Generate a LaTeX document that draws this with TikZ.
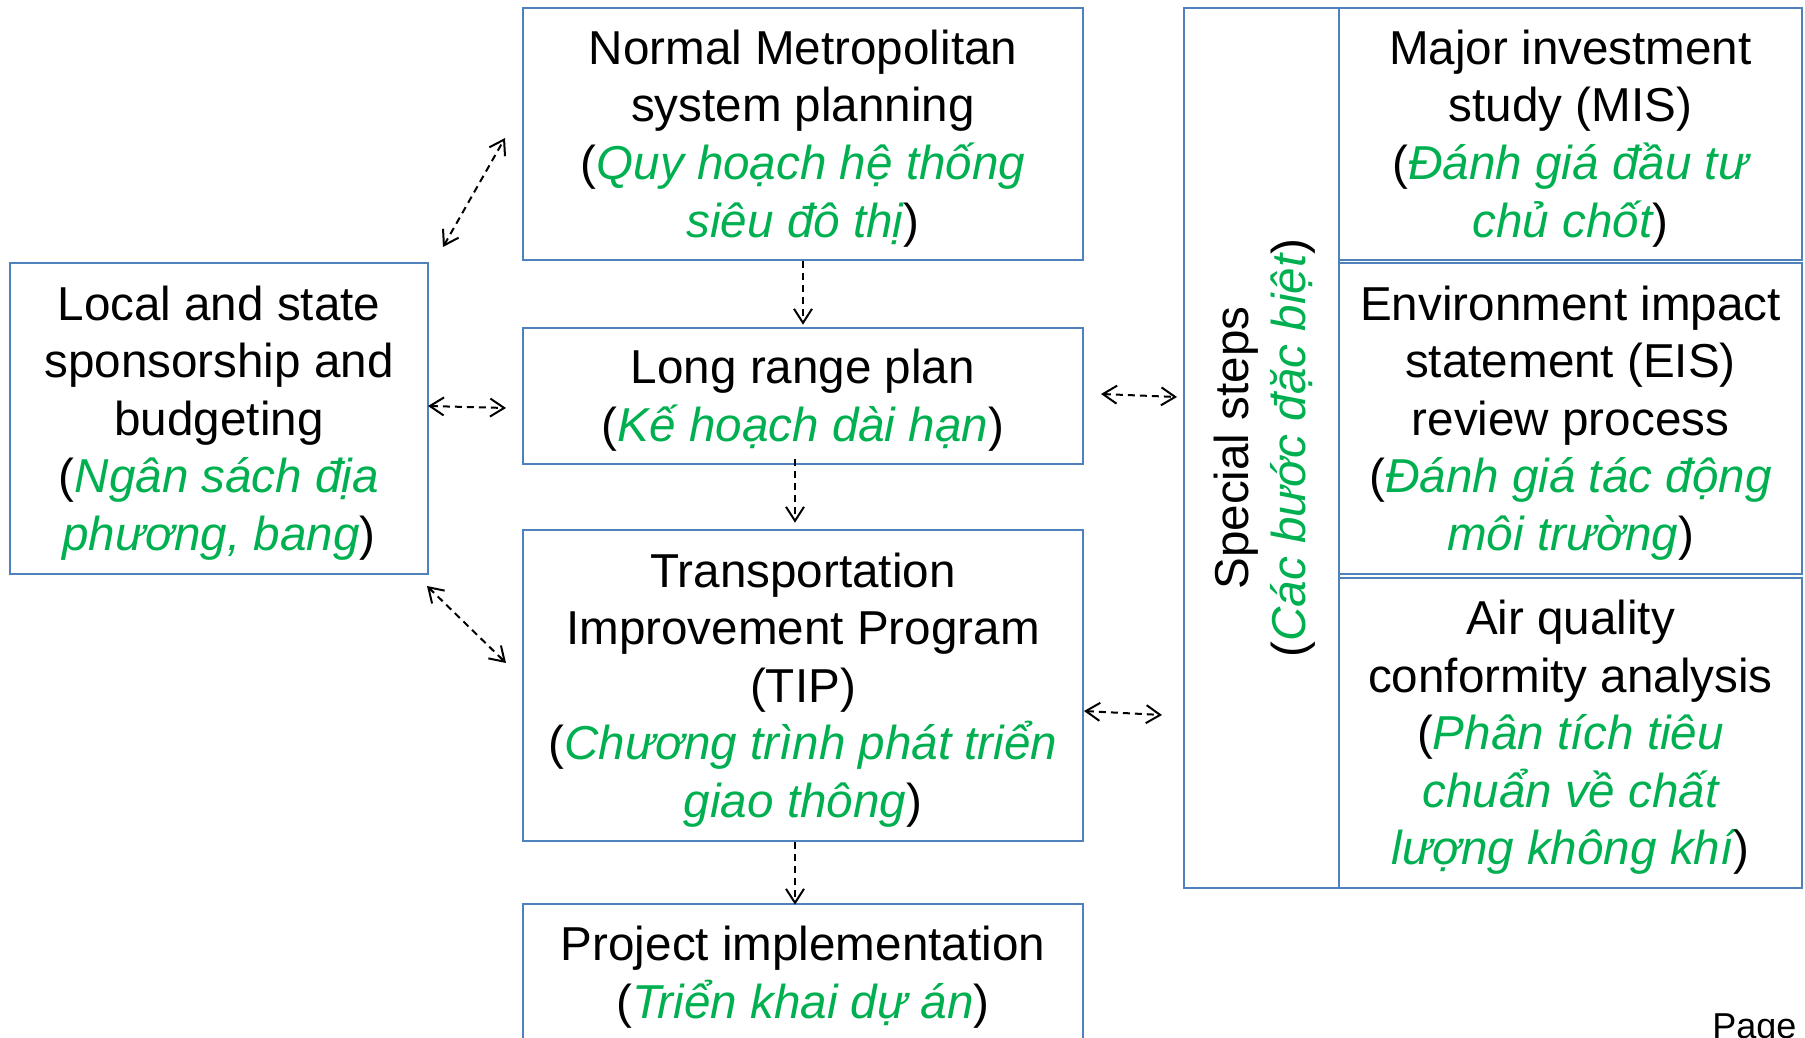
\documentclass[tikz,border=0pt]{standalone}
\usepackage{fontspec}
\setmainfont{Liberation Sans}
\usetikzlibrary{arrows.meta,calc}
\definecolor{bblue}{HTML}{4F81BD}
\definecolor{vgreen}{HTML}{00B050}
\newcommand{\vn}[1]{{\color{vgreen}\itshape #1}}
\begin{document}
\begin{tikzpicture}[x=0.5pt,y=-0.5pt,
  box/.style={draw=bblue,line width=1.3pt,inner sep=0pt},
  txt/.style={align=center,inner sep=0pt,font=\fontsize{23.8}{28.8}\selectfont},
  dar/.style={dash pattern=on 3.5pt off 2.5pt,line width=1pt,-{Straight Barb[length=7pt,width=9pt]}},
  ddar/.style={dash pattern=on 3.5pt off 2.5pt,line width=1pt,{Straight Barb[length=7pt,width=9pt]}-{Straight Barb[length=7pt,width=9pt]}}]
\useasboundingbox (0,0) rectangle (1805,1038);
\clip (0,0) rectangle (1805,1038);

% centre column
\node[box,minimum width=280pt,minimum height=126pt] (nms) at (803,134) {};
\node[txt] (nmst) at ([yshift=-2.2pt]nms.center)
  {Normal Metropolitan\\system planning\\(\vn{Quy hoạch hệ thống}\\\vn{siêu đô thị})};
\node[box,minimum width=280pt,minimum height=68pt] (lrp) at (803,396) {};
\node[txt] (lrpt) at ([yshift=-2.2pt]lrp.center)
  {Long range plan\\(\vn{Kế hoạch dài hạn})};
\node[box,minimum width=280pt,minimum height=155.5pt] (tip) at (803,685.5) {};
\node[txt] (tipt) at ([yshift=-2.2pt]tip.center)
  {Transportation\\Improvement Program\\(TIP)\\(\vn{Chương trình phát triển}\\\vn{giao thông})};
\node[box,minimum width=280pt,minimum height=68.5pt] (proj) at (803,972.5) {};
\node[txt] (projt) at ([yshift=-2.2pt]proj.center)
  {Project implementation\\(\vn{Triển khai dự án})};

% left
\node[box,minimum width=209pt,minimum height=155.5pt] (loc) at (219,418.5) {};
\node[txt] (loct) at ([yshift=-2.2pt]loc.center)
  {Local and state\\sponsorship and\\budgeting\\(\vn{Ngân sách địa}\\\vn{phương, bang})};

% right
\node[box,minimum width=77.5pt,minimum height=440pt] (sp) at (1261.5,448) {};
\node[txt,rotate=90] (spt) at ([xshift=1.5pt]sp.center) {Special steps\\(\vn{Các bước đặc biệt})};
\node[box,minimum width=231.5pt,minimum height=126pt] (mis) at (1570.5,134) {};
\node[txt] (mist) at ([yshift=-2.2pt]mis.center)
  {Major investment\\study (MIS)\\(\vn{Đánh giá đầu tư}\\\vn{chủ chốt})};
\node[box,minimum width=231.5pt,minimum height=155.5pt] (eis) at (1570.5,418.5) {};
\node[txt] (eist) at ([yshift=-2.2pt]eis.center)
  {Environment impact\\statement (EIS)\\review process\\(\vn{Đánh giá tác động}\\\vn{môi trường})};
\node[box,minimum width=231.5pt,minimum height=155pt] (air) at (1570.5,733) {};
\node[txt] (airt) at ([yshift=-2.2pt]air.center)
  {Air quality\\conformity analysis\\(\vn{Phân tích tiêu}\\\vn{chuẩn về chất}\\\vn{lượng không khí})};

\node[anchor=base west,inner sep=0pt,font=\fontsize{18}{21}\selectfont] (pg) at (1712,1038) {Page};

% connector ends
\coordinate (a1s) at (443,247);  \coordinate (a1e) at (505,138);
\coordinate (a2s) at (428,406);  \coordinate (a2e) at (506,408);
\coordinate (a3s) at (427,586);  \coordinate (a3e) at (506,663);
\coordinate (a7s) at (1101,394); \coordinate (a7e) at (1177,397);
\coordinate (a8s) at (1084,711); \coordinate (a8e) at (1162,715);

\draw[ddar] (a1s) -- (a1e);
\draw[ddar] (a2s) -- (a2e);
\draw[ddar] (a3s) -- (a3e);
\draw[ddar] (a7s) -- (a7e);
\draw[ddar] (a8s) -- (a8e);

\draw[dar] (nms.south) -- ([yshift=1pt]lrp.north);
\draw[dar] ([xshift=-4pt,yshift=3pt]lrp.south) -- ([xshift=-4pt,yshift=3pt]tip.north);
\draw[dar] ([xshift=-4pt]tip.south) -- ([xshift=-4pt,yshift=-1pt]proj.north);
\end{tikzpicture}
\end{document}
